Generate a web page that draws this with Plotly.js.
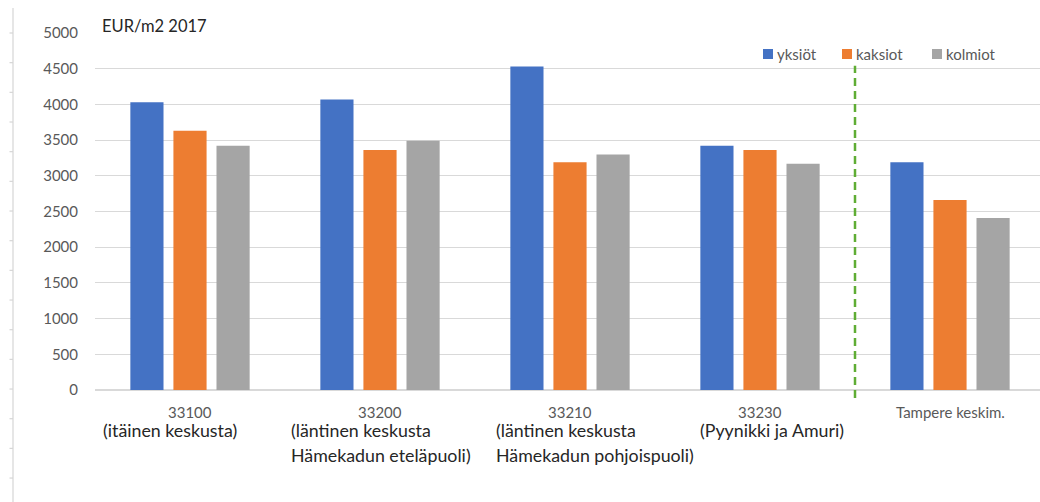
<!DOCTYPE html>
<html>
<head>
<meta charset="utf-8">
<script src="https://cdn.plot.ly/plotly-3.0.1.min.js"></script>
<style>
  html, body { margin: 0; padding: 0; background: #ffffff; }
  #chart { width: 1040px; height: 502px; }
</style>
</head>
<body>
<div id="chart"></div>
<script>
// Postal-code areas of central Tampere plus the city average
const categories = ['33100', '33200', '33210', '33230', 'Tampere keskim.'];
const areaNotes = [
  ['(itäinen keskusta)'],
  ['(läntinen keskusta', 'Hämekadun eteläpuoli)'],
  ['(läntinen keskusta', 'Hämekadun pohjoispuoli)'],
  ['(Pyynikki ja Amuri)'],
  []
];

// Average price per square metre, 2017 (EUR/m2)
const seriesNames = ['yksiöt', 'kaksiot', 'kolmiot'];
const yksiot  = [4030, 4070, 4530, 3420, 3190];
const kaksiot = [3630, 3360, 3190, 3360, 2660];
const kolmiot = [3420, 3490, 3300, 3170, 2410];

const yTickVals = [0, 500, 1000, 1500, 2000, 2500, 3000, 3500, 4000, 4500, 5000];
const chartTitle = 'EUR/m2 2017';

// ---- styling ----
const colors = ['#4472C4', '#ED7D31', '#A5A5A5'];
const FONT = 'Lato, "Open Sans", "Liberation Sans", sans-serif';
const W = 1040, H = 502;
const M = { l: 95, r: 0, t: 33, b: 102 };
const plotW = W - M.l - M.r, plotH = H - M.t - M.b;
const catStep = 190;                      // pixels per category
const yRange = [-140, 5000];

// pixel -> paper helpers for decorations
const px2x = p => (p - M.l) / plotW;
const px2y = p => (M.t + plotH - p) / plotH;

const values = [yksiot, kaksiot, kolmiot];
const traces = seriesNames.map((name, i) => ({
  type: 'bar',
  name: name,
  x: categories,
  y: values[i],
  marker: { color: colors[i] },
  hoverinfo: 'x+y+name'
}));

const annotations = [];
const shapes = [];

// chart title in the upper-left corner
annotations.push({
  text: chartTitle, xref: 'paper', yref: 'paper',
  x: px2x(100), y: px2y(26), xanchor: 'left', yanchor: 'middle',
  showarrow: false, font: { family: FONT, size: 16.5, color: '#262626' }
});

// category labels: postal code (grey) and area description (dark);
// positioned by category index on the category axis
const noteShift = [-89, -91, -76, -62, 0];
categories.forEach((c, i) => {
  annotations.push({
    text: c, xref: 'x', yref: 'y', x: i, y: 0,
    xanchor: 'center', yanchor: 'middle', yshift: -22,
    showarrow: false, font: { family: FONT, size: 15, color: '#595959' }
  });
  areaNotes[i].forEach((line, j) => {
    annotations.push({
      text: line, xref: 'x', yref: 'y', x: i, y: 0,
      xanchor: 'left', yanchor: 'middle', xshift: noteShift[i], yshift: -40 - 25 * j,
      showarrow: false, font: { family: FONT, size: 17.8, color: '#262626' }
    });
  });
});

// legend drawn as coloured squares followed by the series name
const legendLeft = [763, 842, 932];
const legendMidY = 54;
seriesNames.forEach((name, i) => {
  shapes.push({
    type: 'rect', xref: 'paper', yref: 'paper', layer: 'above',
    x0: px2x(legendLeft[i]), x1: px2x(legendLeft[i] + 10),
    y0: px2y(legendMidY + 5), y1: px2y(legendMidY - 5),
    fillcolor: colors[i], line: { width: 0 }
  });
  annotations.push({
    text: name, xref: 'paper', yref: 'paper',
    x: px2x(legendLeft[i] + 12), y: px2y(legendMidY),
    xanchor: 'left', yanchor: 'middle', showarrow: false,
    font: { family: FONT, size: 15, color: '#595959' }
  });
});

// dashed separator between the areas and the city average
shapes.push({
  type: 'line', xref: 'x', yref: 'y', layer: 'above',
  x0: 3.5, x1: 3.5, y0: -112, y1: 4540,
  line: { color: '#5FAD34', width: 2.5, dash: '8px,5px' }
});

// faint ruler along the left edge
shapes.push({
  type: 'line', xref: 'paper', yref: 'paper',
  x0: px2x(13), x1: px2x(13), y0: px2y(8), y1: px2y(502),
  line: { color: '#D6D6D6', width: 1.2 }
});
for (let k = 0; k < 16; k++) {
  const yy = 33 + k * 29.67;
  shapes.push({
    type: 'line', xref: 'paper', yref: 'paper',
    x0: px2x(9.5), x1: px2x(13), y0: px2y(yy), y1: px2y(yy),
    line: { color: '#D6D6D6', width: 1.2 }
  });
}

const layout = {
  width: W, height: H,
  margin: M,
  paper_bgcolor: '#ffffff',
  plot_bgcolor: '#ffffff',
  showlegend: false,
  barmode: 'group',
  bargap: 0.32,
  bargroupgap: 0.23,
  font: { family: FONT, color: '#595959' },
  xaxis: {
    type: 'category',
    range: [-0.5, -0.5 + plotW / catStep],
    showticklabels: false, showgrid: false, zeroline: false, showline: false,
    ticks: ''
  },
  yaxis: {
    range: yRange,
    tickvals: yTickVals,
    ticktext: yTickVals.map(String),
    showgrid: true, gridcolor: '#D9D9D9', gridwidth: 1.2,
    zeroline: false, showline: false,
    ticks: 'outside', ticklen: 13, tickcolor: 'rgba(0,0,0,0)',
    tickfont: { family: FONT, size: 15, color: '#595959' }
  },
  annotations: annotations,
  shapes: shapes
};

Plotly.newPlot('chart', traces, layout, { displayModeBar: false, staticPlot: true });
</script>
</body>
</html>
